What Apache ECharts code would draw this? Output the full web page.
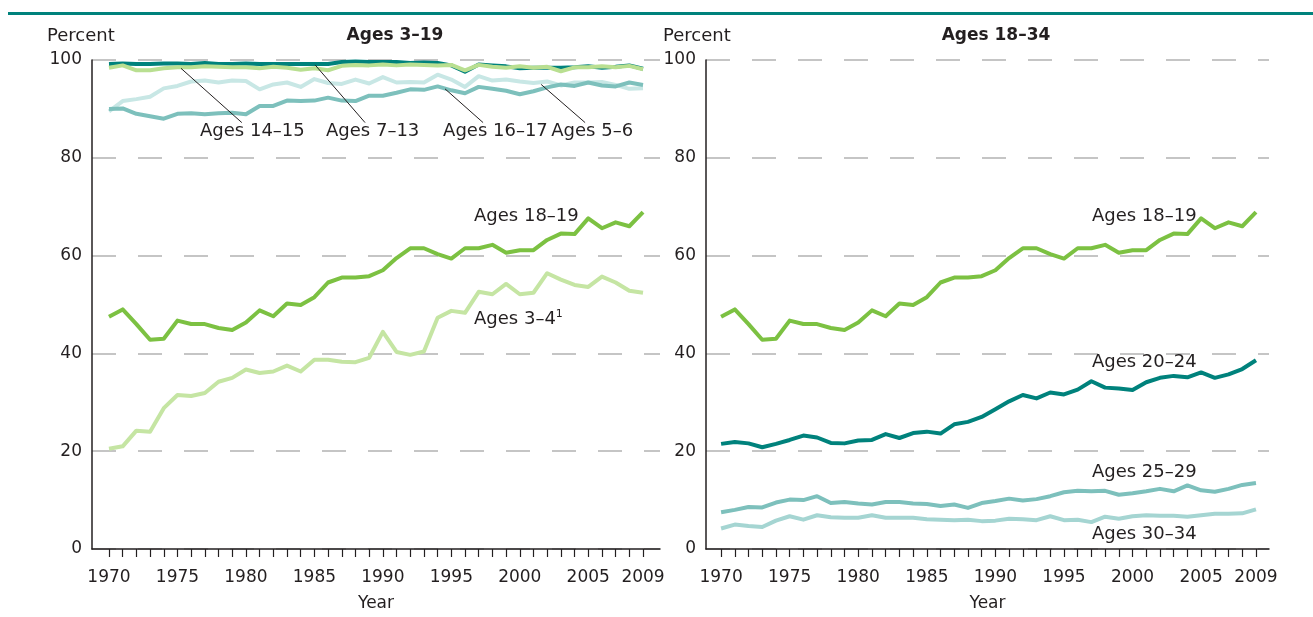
<html>
<head>
<meta charset="UTF-8">
<title>Enrollment rates by age group</title>
<script src="https://cdn.jsdelivr.net/npm/echarts@6/dist/echarts.min.js"></script>
<style>
    html, body { margin: 0; padding: 0; background: #fff; }
    #main { width: 1313px; height: 617px; }
</style>
</head>
<body>
<div id="main"></div>
<script>
// years on the x axis
var years = [];
for (var y = 1970; y <= 2009; y++) years.push(y);
var yearLabels = [1970, 1975, 1980, 1985, 1990, 1995, 2000, 2005, 2009];
var percentTicks = [0, 20, 40, 60, 80, 100];

// ages 3-19 (left panel)
var ages3to4 = [20.5, 21.0, 24.2, 24.0, 28.8, 31.5, 31.3, 31.9, 34.2, 35.0,
    36.7, 36.0, 36.3, 37.5, 36.3, 38.7, 38.7, 38.3, 38.2, 39.1,
    44.4, 40.3, 39.7, 40.4, 47.3, 48.7, 48.3, 52.6, 52.1, 54.2,
    52.1, 52.4, 56.4, 55.1, 54.0, 53.6, 55.7, 54.5, 52.8, 52.4];
var ages5to6 = [89.5, 91.6, 92.0, 92.5, 94.2, 94.7, 95.6, 95.8, 95.4, 95.8,
    95.7, 94.0, 95.0, 95.4, 94.5, 96.1, 95.3, 95.1, 96.0, 95.2,
    96.5, 95.4, 95.5, 95.4, 97.0, 96.0, 94.5, 96.7, 95.8, 96.0,
    95.6, 95.3, 95.6, 94.8, 95.4, 95.4, 95.5, 94.9, 94.1, 94.2];
var ages7to13 = [99.2, 99.3, 99.2, 99.2, 99.3, 99.3, 99.2, 99.4, 99.2, 99.2,
    99.3, 99.2, 99.2, 99.2, 99.2, 99.2, 99.2, 99.6, 99.7, 99.6,
    99.6, 99.6, 99.4, 99.5, 99.4, 98.9, 97.6, 99.1, 98.9, 98.7,
    98.3, 98.4, 98.4, 98.4, 98.5, 98.7, 98.4, 98.6, 98.9, 98.2];
var ages14to15 = [98.4, 98.9, 97.9, 97.9, 98.3, 98.5, 98.5, 98.7, 98.6, 98.5,
    98.5, 98.3, 98.6, 98.4, 98.0, 98.3, 97.9, 98.8, 99.0, 98.9,
    99.1, 98.9, 99.1, 99.0, 98.9, 99.0, 97.9, 99.0, 98.6, 98.4,
    98.7, 98.4, 98.6, 97.7, 98.5, 98.5, 98.7, 98.5, 98.8, 98.1];
var ages16to17 = [90.0, 90.1, 89.0, 88.5, 88.0, 89.0, 89.1, 88.9, 89.1, 89.2,
    88.9, 90.6, 90.6, 91.7, 91.6, 91.7, 92.3, 91.7, 91.6, 92.7,
    92.7, 93.3, 94.0, 93.9, 94.6, 93.8, 93.2, 94.5, 94.1, 93.7,
    93.0, 93.6, 94.4, 95.0, 94.7, 95.4, 94.8, 94.6, 95.4, 94.9];
var ages18to19 = [47.5, 49.0, 46.0, 42.8, 43.0, 46.7, 46.0, 46.0, 45.2, 44.8,
    46.3, 48.8, 47.6, 50.2, 49.9, 51.5, 54.5, 55.5, 55.5, 55.8,
    57.0, 59.5, 61.5, 61.5, 60.3, 59.4, 61.5, 61.5, 62.2, 60.6,
    61.1, 61.1, 63.2, 64.5, 64.4, 67.6, 65.6, 66.8, 66.0, 68.9];

// ages 18-34 (right panel)
var ages20to24 = [21.5, 21.9, 21.6, 20.8, 21.5, 22.3, 23.2, 22.8, 21.7, 21.6,
    22.2, 22.3, 23.5, 22.7, 23.7, 24.0, 23.6, 25.5, 26.0, 27.0,
    28.6, 30.2, 31.5, 30.8, 32.0, 31.6, 32.6, 34.3, 33.0, 32.8,
    32.5, 34.1, 35.0, 35.4, 35.1, 36.1, 35.0, 35.7, 36.8, 38.6];
var ages25to29 = [7.5, 8.0, 8.6, 8.5, 9.5, 10.1, 10.0, 10.8, 9.4, 9.6,
    9.3, 9.1, 9.6, 9.6, 9.3, 9.2, 8.8, 9.1, 8.4, 9.4,
    9.8, 10.3, 9.9, 10.2, 10.8, 11.6, 11.9, 11.8, 11.9, 11.1,
    11.4, 11.8, 12.3, 11.8, 13.0, 12.0, 11.7, 12.3, 13.1, 13.5];
var ages30to34 = [4.2, 5.0, 4.7, 4.5, 5.8, 6.7, 6.0, 6.9, 6.5, 6.4,
    6.4, 6.9, 6.4, 6.4, 6.4, 6.1, 6.0, 5.9, 6.0, 5.7,
    5.8, 6.2, 6.1, 5.9, 6.7, 5.9, 6.0, 5.5, 6.6, 6.2,
    6.7, 6.9, 6.8, 6.8, 6.6, 6.9, 7.2, 7.2, 7.3, 8.1];

var FONT = '"DejaVu Sans", sans-serif';
var INK = '#231f20';

function pairs(vals) {
    return vals.map(function (v, i) { return [years[i], v]; });
}

function lineSeries(name, vals, color, axis) {
    return {
        name: name,
        type: 'line',
        xAxisIndex: axis,
        yAxisIndex: axis,
        data: pairs(vals),
        symbol: 'none',
        lineStyle: { color: color, width: 4, join: 'round' },
        z: 3
    };
}

function xAxis(grid, min, max) {
    return {
        type: 'value',
        gridIndex: grid,
        min: min,
        max: max,
        name: 'Year',
        nameLocation: 'middle',
        nameGap: 46,
        nameTextStyle: { fontFamily: FONT, fontSize: 17, color: INK },
        splitLine: { show: false },
        axisLine: { show: true, onZero: false, lineStyle: { color: INK, width: 1.5 } },
        axisTick: { show: true, inside: false, length: 8, customValues: years, lineStyle: { color: INK, width: 1.2 } },
        axisLabel: { customValues: yearLabels, margin: 20, fontFamily: FONT, fontSize: 17, color: INK,
            formatter: function (v) { return String(v); } }
    };
}

function yAxis(grid) {
    return {
        type: 'value',
        gridIndex: grid,
        min: 0,
        max: 100,
        interval: 20,
        axisLine: { show: true, lineStyle: { color: INK, width: 1.5 } },
        axisTick: { show: false },
        axisLabel: { margin: 10, fontFamily: FONT, fontSize: 17, color: INK },
        splitLine: { show: true, lineStyle: { color: '#b3b3b3', width: 1.5, type: [24, 22] } }
    };
}

// label series: invisible points with text
function labelSeries(axis, items, leaders) {
    return {
        type: 'scatter',
        xAxisIndex: axis,
        yAxisIndex: axis,
        symbolSize: 0,
        silent: true,
        z: 5,
        itemStyle: { opacity: 1 },
        label: {
            show: true,
            position: 'right',
            distance: 0,
            formatter: '{b}',
            fontFamily: FONT,
            fontSize: 18,
            color: INK
        },
        data: items,
        markLine: leaders ? {
            silent: true,
            symbol: 'none',
            label: { show: false },
            lineStyle: { color: INK, width: 1, type: 'solid' },
            data: leaders
        } : undefined
    };
}

var myChart = echarts.init(document.getElementById('main'));

var option = {
    animation: false,
    backgroundColor: '#fff',
    grid: [
        { left: 92, top: 60, width: 568, height: 491 },
        { left: 706, top: 60, width: 563, height: 491 }
    ],
    xAxis: [xAxis(0, 1968.76, 2010.24), xAxis(1, 1968.9, 2009.95)],
    yAxis: [yAxis(0), yAxis(1)],
    graphic: [
        { type: 'rect', shape: { x: 8, y: 12, width: 1305, height: 3 }, style: { fill: '#00827c' } },
        { type: 'text', x: 47, y: 36, style: { text: 'Percent', font: '18px ' + FONT, fill: INK, verticalAlign: 'middle' } },
        { type: 'text', x: 663, y: 36, style: { text: 'Percent', font: '18px ' + FONT, fill: INK, verticalAlign: 'middle' } },
        { type: 'text', x: 395, y: 36, style: { text: 'Ages 3–19', font: 'bold 17px ' + FONT, fill: INK, align: 'center', verticalAlign: 'middle' } },
        { type: 'text', x: 996, y: 36, style: { text: 'Ages 18–34', font: 'bold 17px ' + FONT, fill: INK, align: 'center', verticalAlign: 'middle' } }
    ],
    series: [
        lineSeries('Ages 5–6', ages5to6, '#c8e7e5', 0),
        lineSeries('Ages 16–17', ages16to17, '#7dc0bc', 0),
        lineSeries('Ages 7–13', ages7to13, '#00827c', 0),
        lineSeries('Ages 14–15', ages14to15, '#b9df91', 0),
        lineSeries('Ages 18–19', ages18to19, '#7cc142', 0),
        lineSeries('Ages 3–4', ages3to4, '#c5e5a3', 0),

        lineSeries('Ages 30–34', ages30to34, '#a5d5d2', 1),
        lineSeries('Ages 25–29', ages25to29, '#7dc0bc', 1),
        lineSeries('Ages 20–24', ages20to24, '#00827c', 1),
        lineSeries('Ages 18–19', ages18to19, '#7cc142', 1),

        labelSeries(0, [
            { name: 'Ages 14–15', value: [1976.65, 85.4] },
            { name: 'Ages 7–13', value: [1985.85, 85.4] },
            { name: 'Ages 16–17', value: [1994.4, 85.4] },
            { name: 'Ages 5–6', value: [2002.3, 85.4] },
            { name: 'Ages 18–19', value: [1996.66, 68.1] },
            { name: 'Ages 3–4', value: [1996.66, 47.0],
              label: { formatter: '{a|Ages 3–4}{s|1}',
                       rich: { a: { fontFamily: FONT, fontSize: 18, color: INK, lineHeight: 22 },
                               s: { fontFamily: FONT, fontSize: 11, color: INK, lineHeight: 22, verticalAlign: 'top' } } } }
        ], [
            [{ coord: [1975.26, 98.3] }, { coord: [1979.7, 87.2] }],
            [{ coord: [1985.05, 99.0] }, { coord: [1988.7, 87.2] }],
            [{ coord: [1994.54, 94.1] }, { coord: [1997.32, 87.2] }],
            [{ coord: [2001.56, 95.0] }, { coord: [2004.77, 87.2] }]
        ]),
        labelSeries(1, [
            { name: 'Ages 18–19', value: [1997.04, 68.1] },
            { name: 'Ages 20–24', value: [1997.04, 38.2] },
            { name: 'Ages 25–29', value: [1997.04, 15.65] },
            { name: 'Ages 30–34', value: [1997.04, 3.05] }
        ])
    ]
};

myChart.setOption(option);
</script>
</body>
</html>
